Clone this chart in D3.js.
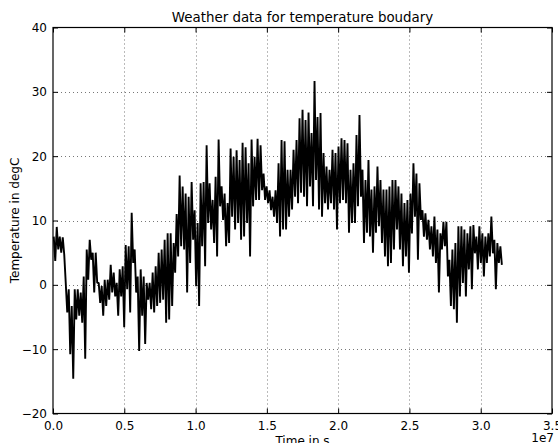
<!DOCTYPE html>
<html><head><meta charset="utf-8">
<script src="https://cdn.jsdelivr.net/npm/d3@7"></script>
<style>
html,body{margin:0;padding:0;background:#fff;}
text{font-family:"DejaVu Sans",sans-serif;fill:#000;}
</style></head>
<body><svg id="c" width="558" height="443"></svg>
<script>
const binSeconds = 210240;
const highs = [7.5,9.0,7.5,7.4,0.3,-0.7,-3.3,-0.7,-0.7,-1.2,1.3,5.5,7,5,5,0.3,-0.2,0.8,0.8,3.1,
1.9,0.3,2.4,2.9,6.2,6,11.2,5.5,1.3,2.4,1.3,0.3,0.3,1.9,2.9,5,5.5,7,8,8,
6.5,11,17,15.3,14.2,13.7,16,11.6,9.6,15.8,16,21.7,15.8,13.2,16.8,22.6,15.3,14.2,12.7,21.2,
19.9,20.9,19.4,22.1,21.4,18.9,22.6,19.9,22.7,21.7,17.3,15.3,14.7,13.7,14.7,18.9,22.5,22.3,17.9,17.9,
21,22.5,25.9,27.2,25.6,26.8,23.6,31.7,26.1,26.7,20.5,18.4,17.9,21,20.5,21.5,22.8,22.5,22,17.9,
18.9,23.3,26.4,17.9,16.3,19.4,14.8,15.3,18.4,16.3,14.8,14.8,15.3,16.3,16.3,15.3,14.2,12.7,13.2,14.2,
18.9,17.3,15.8,11.6,11.1,10.1,9.1,10.6,8.6,8,9.8,9.8,3.9,5.5,6.5,9.1,9.1,8.6,8,9.1,
9.3,7.5,9.1,8,7.5,8,10.6,7,6.5,6];
const lows = [3.7,5.5,5,4.7,-4.3,-10.8,-14.6,-5.4,-4.8,-5.9,-11.5,0.8,3.9,-1.2,0.3,-2.8,-4.8,-3.3,-2.3,-1.2,
-1.8,-4.8,-1.8,-6.6,-0.7,-4.3,3.4,-1.2,-10.3,-4.8,-9.2,-2.3,-3.8,-4.3,-3.3,-2.8,-2.3,-5.9,-5.4,-3.3,
1.9,4.4,6,5.5,-1.2,3.4,7,-0.2,-3.3,6,2.9,9.6,8.6,6.5,4.4,12.2,10.1,6,6.5,10.6,
8.6,9.6,7,7.5,9.6,4.4,12.2,13.2,13.2,14.7,13.2,12.7,11.6,10.6,9.6,7.5,8.6,8.6,10.6,11.7,
13.7,12.7,14.3,13.7,12.2,15.3,12.2,16.3,11.7,10.6,12.7,11.7,12.7,11.7,8.6,12.7,13.2,12.7,8.1,9.6,
9.6,12.2,13.7,6.5,8.1,7.5,5,8.1,9.1,6.5,4.4,2.9,3.4,5.5,8.6,5.5,2.9,4.4,1.9,8,
10.6,3.9,10.1,7.5,7,5.5,4.4,3.4,-1.2,5.5,6,1.3,-3.3,-3.8,-5.9,-1.8,0.3,-1.8,2.4,-0.7,
4.9,2.4,3.4,1.3,3.4,4.4,4.9,-0.7,3.4,3.1];
const xTicks = [0, 0.5e7, 1.0e7, 1.5e7, 2.0e7, 2.5e7, 3.0e7, 3.5e7];
const xTickLabels = ["0.0","0.5","1.0","1.5","2.0","2.5","3.0","3.5"];
const yTicks = [-20,-10,0,10,20,30,40];

const series = [];
highs.forEach((h,i)=>{
  const t0 = i*binSeconds;
  series.push({t:t0 + binSeconds*0.25, v:h});
  series.push({t:t0 + binSeconds*0.75, v:lows[i]});
});

const svg = d3.select("#c");
const m = {l:53, r:552, t:27.5, b:413.5};
const x = d3.scaleLinear().domain([0,3.5e7]).range([m.l,m.r]);
const y = d3.scaleLinear().domain([-20,40]).range([m.b,m.t]);

// grid
const g = svg.append("g");
xTicks.slice(1,-1).forEach(t=>{
  g.append("line").attr("x1",Math.round(x(t))+0.5).attr("x2",Math.round(x(t))+0.5)
   .attr("y1",m.t).attr("y2",m.b).attr("stroke","#777").attr("stroke-width",1).attr("stroke-dasharray","1,3");
});
yTicks.slice(1,-1).forEach(v=>{
  g.append("line").attr("y1",Math.round(y(v))+0.5).attr("y2",Math.round(y(v))+0.5)
   .attr("x1",m.l).attr("x2",m.r).attr("stroke","#777").attr("stroke-width",1).attr("stroke-dasharray","1,3");
});

// data line
svg.append("path").datum(series)
  .attr("d", d3.line().x(d=>x(d.t)).y(d=>y(d.v)))
  .attr("fill","none").attr("stroke","#000").attr("stroke-width",1.9).attr("stroke-linejoin","bevel");

// axes with inward ticks on all four sides
const fmtX = (d,i)=>xTickLabels[i];
const axB = svg.append("g").attr("transform",`translate(0,${m.b})`)
  .call(d3.axisBottom(x).tickValues(xTicks).tickFormat(fmtX).tickSizeInner(-5).tickSizeOuter(0).tickPadding(8));
const axT = svg.append("g").attr("transform",`translate(0,${m.t})`)
  .call(d3.axisTop(x).tickValues(xTicks).tickFormat("").tickSizeInner(-5).tickSizeOuter(0));
const axL = svg.append("g").attr("transform",`translate(${m.l},0)`)
  .call(d3.axisLeft(y).tickValues(yTicks).tickFormat(d=>d<0?"\u2212"+Math.abs(d):d).tickSizeInner(-5).tickSizeOuter(0).tickPadding(6));
const axR = svg.append("g").attr("transform",`translate(${m.r},0)`)
  .call(d3.axisRight(y).tickValues(yTicks).tickFormat("").tickSizeInner(-5).tickSizeOuter(0));
[axB,axT,axL,axR].forEach(a=>{
  a.select(".domain").remove();
  a.selectAll(".tick line").attr("stroke","#000");
  a.selectAll("text").attr("font-size",12).attr("font-family","DejaVu Sans");
});

// frame
svg.append("rect").attr("x",m.l).attr("y",m.t).attr("width",m.r-m.l).attr("height",m.b-m.t)
  .attr("fill","none").attr("stroke","#000").attr("stroke-width",1.2);

// texts
svg.append("text").attr("x",(m.l+m.r)/2).attr("y",22).attr("text-anchor","middle")
  .attr("font-size",13.4).text("Weather data for temperature boudary");
svg.append("text").attr("x",(m.l+m.r)/2).attr("y",445).attr("text-anchor","middle")
  .attr("font-size",12).text("Time in s");
svg.append("text").attr("transform",`translate(19,${(m.t+m.b)/2}) rotate(-90)`).attr("text-anchor","middle")
  .attr("font-size",12).text("Temperature in degC");
svg.append("text").attr("x",554).attr("y",442).attr("text-anchor","end")
  .attr("font-size",12).text("1e7");
</script></body></html>
